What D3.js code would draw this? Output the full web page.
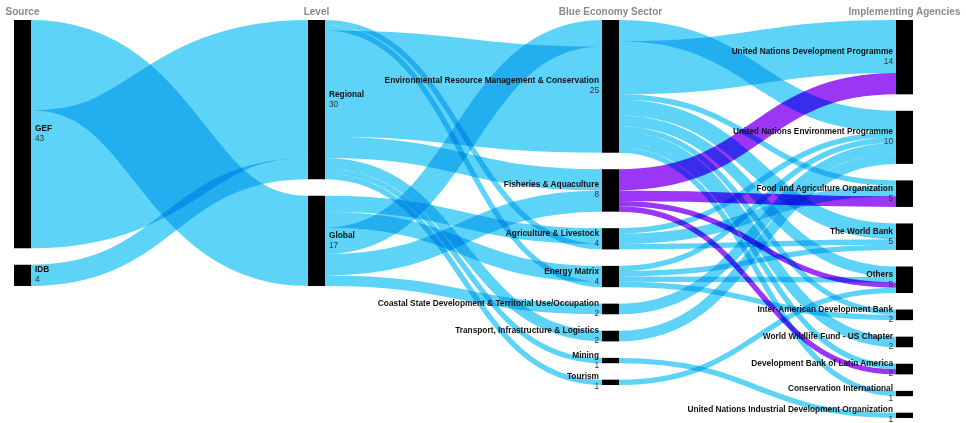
<!DOCTYPE html>
<meta charset="utf-8">
<head>
  <script src="https://d3js.org/d3.v7.min.js"></script>
  <style>
    body { margin: 0; background: #fff; }
    .link { fill: none; mix-blend-mode: multiply; }
  </style>
</head>
<body>
  <div id="my_dataviz"></div>
</body>
<script>

  // column headers
  var columnTitles = ["Source", "Level", "Blue Economy Sector", "Implementing Agencies"];

  // nodes of each column, top to bottom
  var sourceNames = ["GEF", "IDB"];
  var levelNames = ["Regional", "Global"];
  var sectorNames = [
    "Environmental Resource Management & Conservation",
    "Fisheries & Aquaculture",
    "Agriculture & Livestock",
    "Energy Matrix",
    "Coastal State Development & Territorial Use/Occupation",
    "Transport, Infrastructure & Logistics",
    "Mining",
    "Tourism"
  ];
  var agencyNames = [
    "United Nations Development Programme",
    "United Nations Environment Programme",
    "Food and Agriculture Organization",
    "The World Bank",
    "Others",
    "Inter-American Development Bank",
    "World Wildlife Fund - US Chapter",
    "Development Bank of Latin America",
    "Conservation International",
    "United Nations Industrial Development Organization"
  ];

  // flows [source, target, projects] (order = stacking order at both ends)
  var sourceLevelLinks = [
    ["GEF", "Global", 17],
    ["GEF", "Regional", 26],
    ["IDB", "Regional", 4]
  ];
  var levelSectorLinks = [
    ["Global", "Agriculture & Livestock", 3],
    ["Global", "Energy Matrix", 3],
    ["Global", "Environmental Resource Management & Conservation", 5],
    ["Regional", "Agriculture & Livestock", 1],
    ["Regional", "Energy Matrix", 1],
    ["Regional", "Environmental Resource Management & Conservation", 20],
    ["Regional", "Fisheries & Aquaculture", 4],
    ["Global", "Fisheries & Aquaculture", 4],
    ["Global", "Coastal State Development & Territorial Use/Occupation", 2],
    ["Regional", "Transport, Infrastructure & Logistics", 2],
    ["Regional", "Mining", 1],
    ["Regional", "Tourism", 1]
  ];
  var sectorAgencyLinks = [
    ["Environmental Resource Management & Conservation", "United Nations Environment Programme", 4],
    ["Environmental Resource Management & Conservation", "United Nations Development Programme", 10],
    ["Environmental Resource Management & Conservation", "Food and Agriculture Organization", 1],
    ["Environmental Resource Management & Conservation", "The World Bank", 3],
    ["Environmental Resource Management & Conservation", "Others", 2],
    ["Environmental Resource Management & Conservation", "Inter-American Development Bank", 1],
    ["Environmental Resource Management & Conservation", "World Wildlife Fund - US Chapter", 2],
    ["Environmental Resource Management & Conservation", "Development Bank of Latin America", 1],
    ["Environmental Resource Management & Conservation", "Conservation International", 1],
    ["Agriculture & Livestock", "United Nations Environment Programme", 1],
    ["Agriculture & Livestock", "Food and Agriculture Organization", 2],
    ["Agriculture & Livestock", "The World Bank", 1],
    ["Energy Matrix", "United Nations Environment Programme", 1],
    ["Energy Matrix", "The World Bank", 1],
    ["Energy Matrix", "Others", 1],
    ["Energy Matrix", "Inter-American Development Bank", 1],
    ["Fisheries & Aquaculture", "United Nations Development Programme", 4],
    ["Fisheries & Aquaculture", "Food and Agriculture Organization", 2],
    ["Fisheries & Aquaculture", "Others", 1],
    ["Fisheries & Aquaculture", "Development Bank of Latin America", 1],
    ["Coastal State Development & Territorial Use/Occupation", "United Nations Environment Programme", 2],
    ["Transport, Infrastructure & Logistics", "United Nations Environment Programme", 2],
    ["Mining", "United Nations Industrial Development Organization", 1],
    ["Tourism", "Others", 1]
  ];

  // highlighted node (its outgoing flows are drawn in purple)
  var highlighted = "Fisheries & Aquaculture";

  var width = 966, height = 423;
  var marginTop = 20, marginBottom = 418, nodeWidth = 17, nodePadding = 16.5;

  var svg = d3.select("#my_dataviz")
    .append("svg")
    .attr("width", width)
    .attr("height", height);

  // build nodes / links
  var columns = [sourceNames, levelNames, sectorNames, agencyNames];
  var nodes = [], byName = {};
  columns.forEach(function (names, c) {
    names.forEach(function (n) {
      var node = { name: n, col: c, out: [], inc: [], value: 0 };
      nodes.push(node);
      byName[n] = node;
    });
  });
  var links = [];
  [sourceLevelLinks, levelSectorLinks, sectorAgencyLinks].forEach(function (arr) {
    arr.forEach(function (l) {
      var link = { source: byName[l[0]], target: byName[l[1]], value: l[2] };
      link.source.out.push(link);
      link.target.inc.push(link);
      links.push(link);
    });
  });
  nodes.forEach(function (n) {
    n.value = Math.max(d3.sum(n.out, function (l) { return l.value; }),
                       d3.sum(n.inc, function (l) { return l.value; }));
  });

  // scales
  var x = d3.scalePoint()
    .domain(columnTitles)
    .range([14, 896]);

  var maxN = d3.max(columns, function (c) { return c.length; });
  var colTotal = d3.max(columns, function (c) {
    return d3.sum(c, function (n) { return byName[n].value; });
  });
  var v = d3.scaleLinear()
    .domain([0, colTotal])
    .range([0, (marginBottom - marginTop) - (maxN - 1) * nodePadding]);

  // node positions
  columns.forEach(function (names, c) {
    var y = marginTop;
    names.forEach(function (n) {
      var node = byName[n];
      node.x0 = x(columnTitles[c]);
      node.x1 = node.x0 + nodeWidth;
      node.y0 = y;
      node.y1 = y + v(node.value);
      y = node.y1 + nodePadding;
    });
  });

  // link positions
  nodes.forEach(function (n) {
    var y = n.y0;
    n.out.forEach(function (l) { l.w = v(l.value); l.sy = y + l.w / 2; y += l.w; });
    y = n.y0;
    n.inc.forEach(function (l) { l.ty = y + v(l.value) / 2; y += v(l.value); });
  });

  var linkPath = d3.linkHorizontal()
    .source(function (d) { return [d.source.x1, d.sy]; })
    .target(function (d) { return [d.target.x0, d.ty]; });

  svg.append("g")
    .selectAll("path")
    .data(links)
    .enter()
    .append("path")
    .attr("class", "link")
    .attr("d", linkPath)
    .attr("stroke", function (d) { return d.source.name === highlighted ? "#9b36f4" : "#5cd3f7"; })
    .attr("stroke-width", function (d) { return d.w; });

  // nodes
  svg.append("g")
    .selectAll("rect")
    .data(nodes)
    .enter()
    .append("rect")
    .attr("x", function (d) { return d.x0; })
    .attr("y", function (d) { return d.y0; })
    .attr("width", nodeWidth)
    .attr("height", function (d) { return d.y1 - d.y0; })
    .attr("fill", "#000");

  // labels
  var label = svg.append("g")
    .style("font-family", "'Liberation Sans', Arial, sans-serif")
    .style("font-size", "8.3px")
    .selectAll("g")
    .data(nodes)
    .enter()
    .append("g");

  function lx(d) { return d.col < 2 ? d.x1 + 4 : d.x0 - 3; }
  function anchor(d) { return d.col < 2 ? "start" : "end"; }

  label.append("text")
    .attr("x", lx)
    .attr("y", function (d) { return (d.y0 + d.y1) / 2 - 3; })
    .attr("text-anchor", anchor)
    .attr("font-weight", "bold")
    .attr("fill", "#111")
    .text(function (d) { return d.name; });

  label.append("text")
    .attr("x", lx)
    .attr("y", function (d) { return (d.y0 + d.y1) / 2 + 7; })
    .attr("text-anchor", anchor)
    .attr("fill", "#333")
    .text(function (d) { return d.value; });

  // column headers
  svg.append("g")
    .selectAll("text")
    .data(columnTitles)
    .enter()
    .append("text")
    .attr("x", function (d) { return x(d) + nodeWidth / 2; })
    .attr("y", 15)
    .attr("text-anchor", "middle")
    .style("font-family", "'Liberation Sans', Arial, sans-serif")
    .style("font-size", "10px")
    .style("font-weight", "bold")
    .attr("fill", "#8a8a8a")
    .text(function (d) { return d; });

</script>
